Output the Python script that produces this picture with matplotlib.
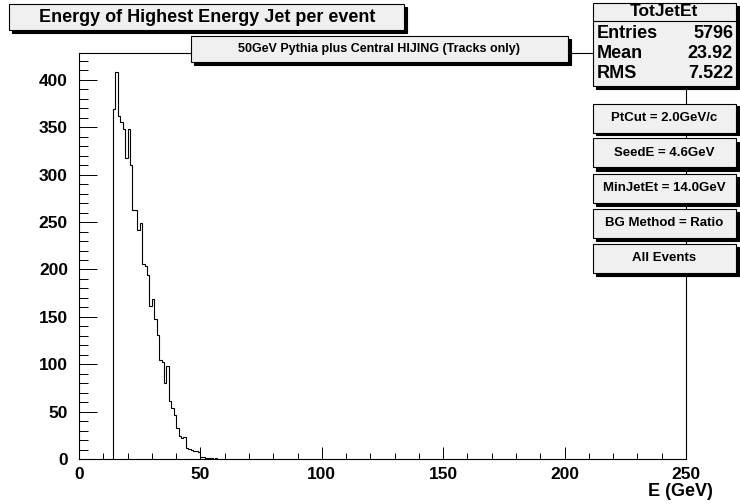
import numpy as np
import matplotlib
matplotlib.use("Agg")
import matplotlib.pyplot as plt
from matplotlib.patches import Rectangle
from matplotlib.ticker import MultipleLocator

plt.rcParams['font.family'] = ['Liberation Sans', 'DejaVu Sans']
plt.rcParams['font.weight'] = 'bold'

# ---- data (1 GeV bins, first bin starts at 14 GeV) ----
first_bin = 14
counts = [369, 408, 362, 356, 348, 318, 348, 310,
          263, 263, 242, 249, 206, 204, 194, 161, 169, 148, 131, 104, 102, 80, 98,
          61, 54, 46, 33, 24, 22, 23, 12, 11, 9, 8, 8, 7, 2, 2, 1, 1, 1, 0, 1]
bin_width = 1.0

x_ticks = [0, 50, 100, 150, 200, 250]
y_ticks = [0, 50, 100, 150, 200, 250, 300, 350, 400]

title = "Energy of Highest Energy Jet per event"
subtitle = "50GeV Pythia plus Central HIJING (Tracks only)"
stats_name = "TotJetEt"
stats_rows = [("Entries", "5796"), ("Mean", "23.92"), ("RMS", "7.522")]
cut_labels = ["PtCut = 2.0GeV/c", "SeedE = 4.6GeV", "MinJetEt = 14.0GeV",
              "BG Method = Ratio", "All Events"]
xlabel = "E (GeV)"

W, H = 740, 504
fig = plt.figure(figsize=(W / 100, H / 100), dpi=100)

fl, fr, fb, ft = 79, 686, 459, 53
ax = fig.add_axes([fl / W, 1 - fb / H, (fr - fl) / W, (fb - ft) / H])

edges = first_bin + bin_width * np.arange(len(counts) + 1)
ax.stairs(counts, edges, baseline=0, color='black', lw=0.8)

ax.set_xlim(0, 250)
ax.set_ylim(0, 1.05 * max(counts))
ax.set_xticks(x_ticks)
ax.set_yticks(y_ticks)
ax.xaxis.set_minor_locator(MultipleLocator(10))
ax.yaxis.set_minor_locator(MultipleLocator(10))
ax.tick_params(axis='x', which='major', direction='in', length=8.6, width=0.7,
               labelsize=12.5, pad=6)
ax.tick_params(axis='x', which='minor', direction='in', length=4.3, width=0.7)
ax.tick_params(axis='y', which='major', direction='in', length=13, width=0.7,
               labelsize=12.5, pad=8)
ax.tick_params(axis='y', which='minor', direction='in', length=6.5, width=0.7)
for lab in ax.get_xticklabels() + ax.get_yticklabels():
    lab.set_fontweight('bold')
for s in ax.spines.values():
    s.set_linewidth(0.8)

fig.text(713 / W, 1 - 492 / H, xlabel, ha='right', va='center', fontsize=13,
         fontweight='bold')


def box(x0, y0, x1, y1, shadow=3):
    # pixel coords, top-left origin
    fig.patches.append(Rectangle(((x0 + shadow) / W, 1 - (y1 + shadow) / H),
                                 (x1 - x0) / W, (y1 - y0) / H,
                                 transform=fig.transFigure, facecolor='black',
                                 edgecolor='black', lw=0.8, zorder=5))
    fig.patches.append(Rectangle((x0 / W, 1 - y1 / H), (x1 - x0) / W, (y1 - y0) / H,
                                 transform=fig.transFigure, facecolor='#f0f0f0',
                                 edgecolor='black', lw=0.8, zorder=6))


def ptext(x, y, s, size, ha='center'):
    fig.text(x / W, 1 - y / H, s, ha=ha, va='center', fontsize=size,
             fontweight='bold', zorder=10)


# title box
box(9, 4, 404, 30)
ptext(207, 17, title, 13)

# subtitle box
box(191, 36, 568, 62)
ptext(379, 49, subtitle, 9)

# stats box
box(593, 3, 736, 86)
fig.lines.append(plt.Line2D([593 / W, 736 / W], [1 - 21 / H, 1 - 21 / H],
                            transform=fig.transFigure, color='black', lw=0.8,
                            zorder=7))
ptext(664, 12, stats_name, 12.5)
for i, (k, v) in enumerate(stats_rows):
    yy = 33 + 20 * i
    ptext(597, yy, k, 13, ha='left')
    ptext(733, yy, v, 13, ha='right')

# cut boxes
for i, s in enumerate(cut_labels):
    cy = 118 + 35 * i
    box(593, cy - 14.5, 736, cy + 14.5)
    ptext(664, cy, s, 9.5)

fig.savefig("out.png", dpi=100)
